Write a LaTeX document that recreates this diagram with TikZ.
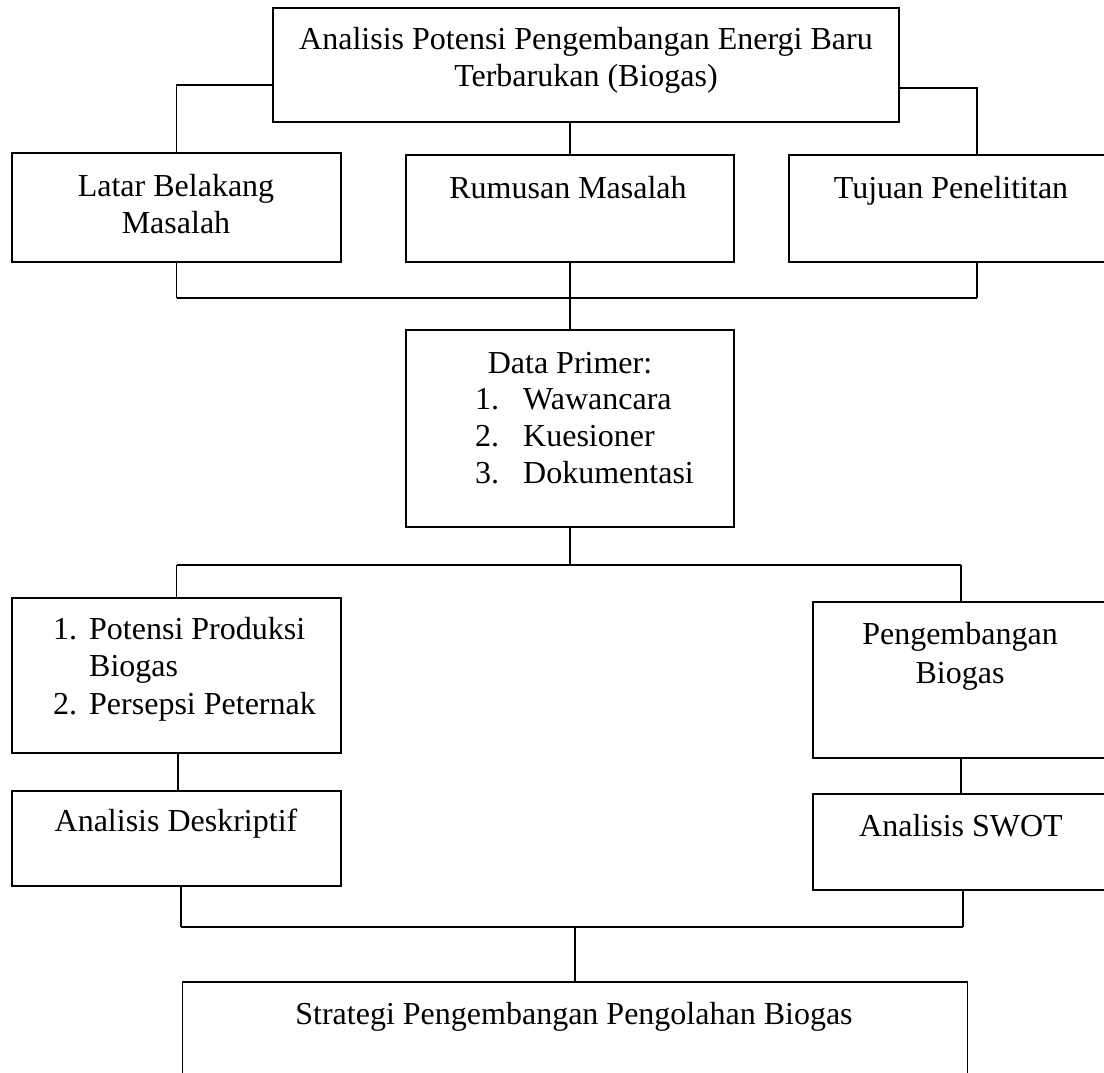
\documentclass[tikz,border=0pt]{standalone}
\usepackage{fontspec}
\setmainfont{Liberation Serif}
\begin{document}
\begin{tikzpicture}[x=1pt,y=-1pt,
  box/.style={draw=black,line width=1.6pt,minimum width=#1,inner sep=0pt,outer sep=0pt},
  conn/.style={draw=black,line width=1.1pt},
  bar/.style={draw=black,line width=1.8pt},
  txt/.style={anchor=base,inner sep=0pt,font=\fontsize{32}{37}\selectfont},
  ltxt/.style={anchor=base west,inner sep=0pt,font=\fontsize{32}{37}\selectfont}]
\clip (0,0) rectangle (1104,1073);
\fill[white] (0,0) rectangle (1104,1073);

% boxes
\node[box=626pt,minimum height=114pt] (top) at (586,65) {};
\node[box=329pt,minimum height=109pt] (latar) at (176.5,207.5) {};
\node[box=328pt,minimum height=107pt] (rumusan) at (570,208.5) {};
\node[box=340pt,minimum height=107pt] (tujuan) at (959,208.5) {};
\node[box=328pt,minimum height=197pt] (data) at (570,428.5) {};
\node[box=329pt,minimum height=155pt] (potensi) at (176.5,675.5) {};
\node[box=317pt,minimum height=156pt] (pengembangan) at (971.5,680) {};
\node[box=329pt,minimum height=95pt] (deskriptif) at (176.5,838.5) {};
\node[box=317pt,minimum height=96pt] (swot) at (971.5,842) {};
\node[box=785pt,minimum height=140pt] (strategi) at (575,1052) {};

% texts
\node[txt] (t1a) at (586,50) {Analisis Potensi Pengembangan Energi Baru};
\node[txt] (t1b) at (586,87) {Terbarukan (Biogas)};
\node[txt] (t2a) at (176,196) {Latar Belakang};
\node[txt] (t2b) at (176,233) {Masalah};
\node[txt] (t3) at (568,198) {Rumusan Masalah};
\node[txt] (t4) at (951,198) {Tujuan Penelititan};
\node[txt] (t5) at (570,373) {Data Primer:};
\node[ltxt] (n51) at (475,409) {1.};
\node[ltxt] (t51) at (523,409) {Wawancara};
\node[ltxt] (n52) at (475,446) {2.};
\node[ltxt] (t52) at (523,446) {Kuesioner};
\node[ltxt] (n53) at (475,483) {3.};
\node[ltxt] (t53) at (523,483) {Dokumentasi};
\node[ltxt] (n61) at (53,639) {1.};
\node[ltxt] (t61a) at (89,639) {Potensi Produksi};
\node[ltxt] (t61b) at (89,676) {Biogas};
\node[ltxt] (n62) at (53,714) {2.};
\node[ltxt] (t62) at (89,714) {Persepsi Peternak};
\node[txt] (t7a) at (960,644) {Pengembangan};
\node[txt] (t7b) at (960,683) {Biogas};
\node[txt] (t8) at (176,831) {Analisis Deskriptif};
\node[txt] (t9) at (961,836) {Analisis SWOT};
\node[txt] (t10) at (574,1024) {Strategi Pengembangan Pengolahan Biogas};

% connectors
\coordinate (j1) at (570,298);
\coordinate (j2) at (570,565);
\coordinate (j3) at (575,927);
\draw[conn] ([yshift=-20pt]top.west) -| (latar.north);
\draw[conn] ([yshift=-23pt]top.east) -| ([xshift=18pt]tujuan.north);
\draw[conn] (rumusan.north) -- (rumusan.north |- top.south);
\draw[conn] (latar.south) -- (latar.south |- j1);
\draw[conn] ([xshift=18pt]tujuan.south) -- ([xshift=18pt]tujuan.south |- j1);
\draw[bar] (latar.south |- j1) -- ([xshift=18pt]tujuan.south |- j1);
\draw[conn] (rumusan.south) -- (data.north);
\draw[conn] (data.south) -- (j2);
\draw[bar] (potensi.north |- j2) -- ([xshift=-10.5pt]pengembangan.north |- j2);
\draw[conn] (potensi.north) -- (potensi.north |- j2);
\draw[conn] ([xshift=-10.5pt]pengembangan.north) -- ([xshift=-10.5pt]pengembangan.north |- j2);
\draw[conn] ([xshift=1.5pt]potensi.south) -- ([xshift=1.5pt]deskriptif.north);
\draw[conn] ([xshift=-10.5pt]pengembangan.south) -- ([xshift=-10.5pt]swot.north);
\draw[conn] ([xshift=4.5pt]deskriptif.south) -- ([xshift=4.5pt]deskriptif.south |- j3);
\draw[conn] ([xshift=-8.5pt]swot.south) -- ([xshift=-8.5pt]swot.south |- j3);
\draw[bar] ([xshift=4.5pt]deskriptif.south |- j3) -- ([xshift=-8.5pt]swot.south |- j3);
\draw[conn] (j3) -- (strategi.north);
\end{tikzpicture}
\end{document}
